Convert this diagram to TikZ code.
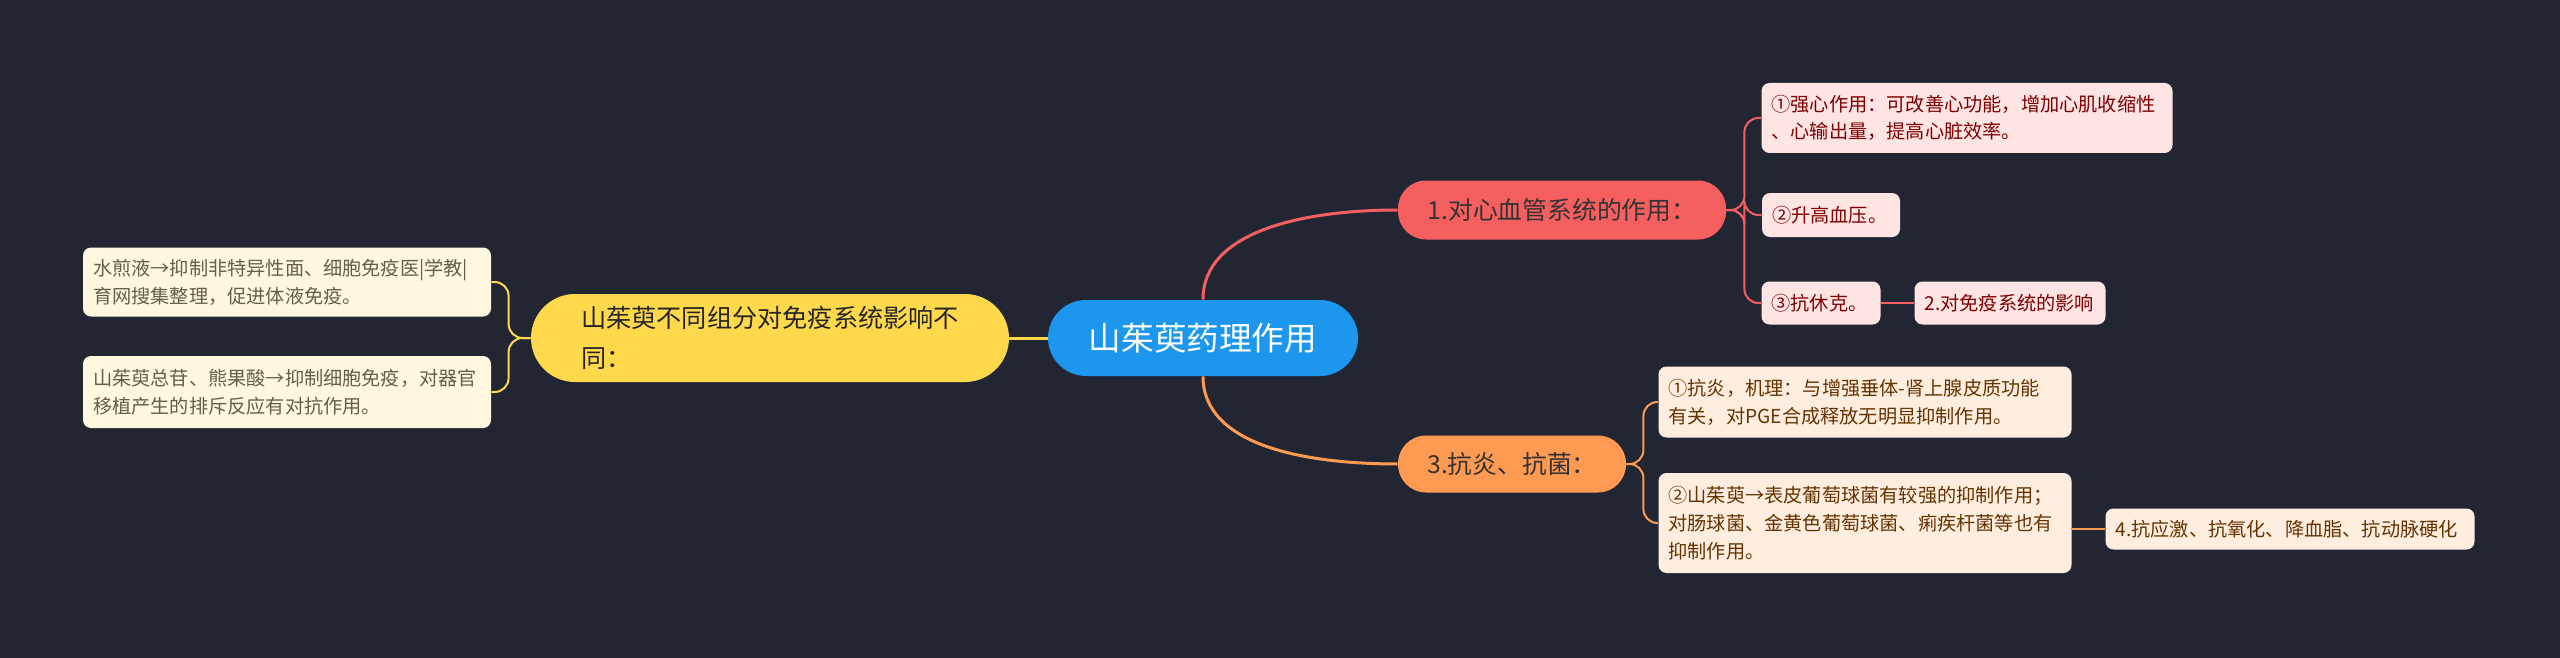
\documentclass[tikz,border=0pt]{standalone}
\usepackage{fontspec}
\setmainfont{Noto Sans CJK SC}
\usetikzlibrary{calc}
\definecolor{bgc}{HTML}{222633}
\definecolor{rootc}{HTML}{1D96EE}
\definecolor{yelc}{HTML}{FFD84C}
\definecolor{redc}{HTML}{F55F5F}
\definecolor{orac}{HTML}{FF9A52}
\definecolor{yleaf}{HTML}{FFF8DE}
\definecolor{rleaf}{HTML}{FFE4E4}
\definecolor{oleaf}{HTML}{FFEEE0}
\tikzset{main/.style={rounded corners=14pt,inner sep=0pt,align=left},
         leaf/.style={rounded corners=4pt,inner xsep=5pt,inner ysep=0pt,align=left,
           text width=#1,font=\fontsize{9.6}{13.9}\selectfont},
         link/.style={line width=1.5pt},
         sub/.style={line width=1pt,rounded corners=7pt}}
\begin{document}
\begin{tikzpicture}[x=0.5pt,y=-0.5pt]
  \fill[bgc] (0,0) rectangle (2560,658);
  \useasboundingbox (0,0) rectangle (2560,658);
  \node[main,fill=rootc,text=white,minimum width=155pt,minimum height=38pt,
    rounded corners=19pt,font=\fontsize{16.3}{20}\selectfont] (root) at (1203,338)
    {山茱萸药理作用};
  \node[main,fill=yelc,text=black!85,minimum width=239pt,minimum height=44pt,
    rounded corners=22pt,font=\fontsize{12.6}{20}\selectfont] (immu) at (770,338)
    {山茱萸不同组分对免疫系统影响不\\同：};
  \node[main,fill=redc,text=black!80,minimum width=164pt,minimum height=29.5pt,
    font=\fontsize{12.4}{16}\selectfont] (card) at (1562,210) {1.对心血管系统的作用：};
  \node[main,fill=orac,text=black!80,minimum width=114pt,minimum height=28.5pt,
    font=\fontsize{12.4}{16}\selectfont] (anti) at (1512,464) {3.抗炎、抗菌：};
  % left leaves
  \node[leaf=194pt,fill=yleaf,text=yellow!30!black,minimum height=34.5pt]
    (y1) at (287,282) {水煎液→抑制非特异性面、细胞免疫医|学教|\\育网搜集整理，促进体液免疫。};
  \node[leaf=194pt,fill=yleaf,text=yellow!30!black,minimum height=36pt]
    (y2) at (287,392) {山茱萸总苷、熊果酸→抑制细胞免疫，对器官\\移植产生的排斥反应有对抗作用。};
  % cardiovascular leaves
  \node[leaf=195.5pt,fill=rleaf,text=red!50!black,minimum height=35pt]
    (r1) at (1967,118) {①强心作用：可改善心功能，增加心肌收缩性\\、心输出量，提高心脏效率。};
  \node[leaf=59pt,fill=rleaf,text=red!50!black,minimum height=22pt]
    (r2) at (1831,215) {②升高血压。};
  \node[leaf=49.5pt,fill=rleaf,text=red!50!black,minimum height=21.5pt]
    (r3) at (1821,303) {③抗休克。};
  \node[leaf=85.5pt,fill=rleaf,text=red!50!black,minimum height=21.5pt]
    (r4) at (2010,303) {2.对免疫系统的影响};
  % anti-inflammatory leaves
  \node[leaf=196.5pt,fill=oleaf,text=orange!40!black,minimum height=35.5pt]
    (o1) at (1865,402) {①抗炎，机理：与增强垂体-肾上腺皮质功能\\有关，对PGE合成释放无明显抑制作用。};
  \node[leaf=196.5pt,fill=oleaf,text=orange!40!black,minimum height=50pt]
    (o2) at (1865,523) {②山茱萸→表皮葡萄球菌有较强的抑制作用；\\对肠球菌、金黄色葡萄球菌、痢疾杆菌等也有\\抑制作用。};
  \node[leaf=174.5pt,fill=oleaf,text=orange!40!black,minimum height=20.5pt]
    (o3) at (2290,529) {4.抗应激、抗氧化、降血脂、抗动脉硬化};
  % connectors
  \draw[link,yelc] (immu.east) -- (root.west);
  \draw[link,redc] (root.north) .. controls +(0,-70) and +(-90,0) .. (card.west);
  \draw[link,orac] (root.south) .. controls +(0,70) and +(-90,0) .. (anti.west);
  \foreach \n in {y1,y2}
    \draw[sub,yelc] (immu.west) -- ++(-22,0) |- (\n.east);
  \foreach \n in {r1,r2,r3}
    \draw[sub,redc] (card.east) -- ++(18,0) |- (\n.west);
  \draw[sub,redc] (r3.east) -- (r4.west);
  \foreach \n in {o1,o2}
    \draw[sub,orac] (anti.east) -- ++(17,0) |- (\n.west);
  \draw[sub,orac] (o2.east |- o3.west) -- (o3.west);
\end{tikzpicture}
\end{document}
